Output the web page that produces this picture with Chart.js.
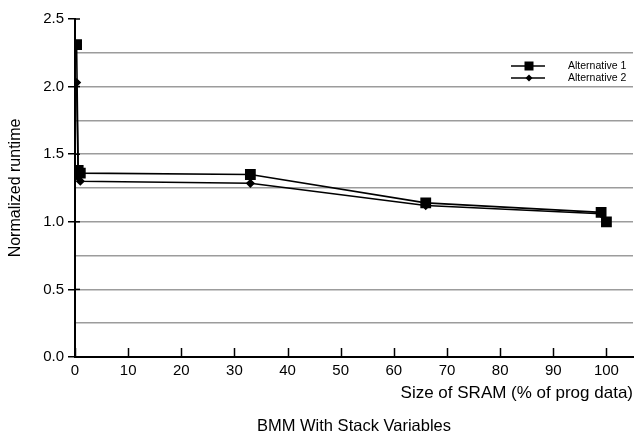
<!DOCTYPE html>
<html><head><meta charset="utf-8">
<script src="https://cdn.jsdelivr.net/npm/chart.js@4/dist/chart.umd.min.js"></script>
<style>html,body{margin:0;padding:0;background:#fff}canvas{display:block}</style>
</head><body>
<canvas id="c" width="635" height="435"></canvas>
<script>
const sramSize = [0.3, 0.6, 1, 33, 66, 99, 100];
const alternative1 = [2.31, 1.38, 1.36, 1.35, 1.14, 1.07, 1.00];
const alternative2 = [2.03, 1.33, 1.30, 1.285, 1.12, 1.06, 1.00];
const seriesNames = ['Alternative 1', 'Alternative 2'];
const xTickValues = [0, 10, 20, 30, 40, 50, 60, 70, 80, 90, 100];
const yLabelValues = [0, 0.5, 1.0, 1.5, 2.0, 2.5];
const xTitle = 'Size of SRAM (% of prog data)';
const yTitle = 'Normalized runtime';
const caption = 'BMM With Stack Variables';

const FONT = '"Liberation Sans", Arial, sans-serif';
const isMajor = v => yLabelValues.some(t => Math.abs(t - v) < 1e-6);

const inwardTicks = {
  id: 'inwardTicks',
  afterDraw(chart) {
    const ctx = chart.ctx, xs = chart.scales.x, a = chart.chartArea;
    ctx.save();
    ctx.strokeStyle = '#000';
    ctx.lineWidth = 1.5;
    xTickValues.forEach(v => {
      const px = Math.round(xs.getPixelForValue(v)) + 0.5;
      ctx.beginPath(); ctx.moveTo(px, a.bottom); ctx.lineTo(px, a.bottom - 9); ctx.stroke();
    });
    const ys = chart.scales.y;
    yLabelValues.forEach(v => {
      const py = ys.getPixelForValue(v);
      ctx.beginPath(); ctx.moveTo(a.left, py); ctx.lineTo(a.left + 5, py); ctx.stroke();
    });
    // caption
    ctx.fillStyle = '#000';
    ctx.font = '16.5px ' + FONT;
    ctx.textAlign = 'center';
    ctx.textBaseline = 'middle';
    ctx.fillText(caption, (a.left + a.right) / 2, 426);
    // legend
    const rows = [{y: 66, name: seriesNames[0], style: 'square'}, {y: 78, name: seriesNames[1], style: 'diamond'}];
    ctx.font = '10.5px ' + FONT;
    ctx.textAlign = 'left';
    rows.forEach(r => {
      ctx.beginPath(); ctx.moveTo(511, r.y); ctx.lineTo(545, r.y); ctx.stroke();
      ctx.beginPath();
      if (r.style === 'square') { ctx.rect(524.5, r.y - 4.5, 9, 9); }
      else { ctx.moveTo(529, r.y - 3.5); ctx.lineTo(532.5, r.y); ctx.lineTo(529, r.y + 3.5); ctx.lineTo(525.5, r.y); ctx.closePath(); }
      ctx.fill();
      ctx.fillText(r.name, 568, r.y);
    });
    ctx.restore();
  }
};

new Chart(document.getElementById('c'), {
  type: 'scatter',
  data: {
    datasets: [
      {
        label: seriesNames[0],
        data: sramSize.map((x, i) => ({x, y: alternative1[i]})),
        showLine: true, borderColor: '#000', backgroundColor: '#000', borderWidth: 1.6,
        pointStyle: 'rect', pointRadius: 6.5, pointHoverRadius: 6.5, tension: 0
      },
      {
        label: seriesNames[1],
        data: sramSize.map((x, i) => ({x, y: alternative2[i]})),
        showLine: true, borderColor: '#000', backgroundColor: '#000', borderWidth: 1.6,
        pointStyle: 'rectRot', pointRadius: 3.5, pointHoverRadius: 3.5, tension: 0
      }
    ]
  },
  options: {
    responsive: false, animation: false, devicePixelRatio: 1,
    layout: {autoPadding: false, padding: {top: 19, right: 2, left: 0, bottom: 0}},
    plugins: {legend: {display: false}, tooltip: {enabled: false}, title: {display: false}},
    scales: {
      x: {
        type: 'linear', min: 0, max: 105,
        afterBuildTicks: s => { s.ticks = xTickValues.map(v => ({value: v})); },
        afterFit: s => { s.height = 78; },
        ticks: {color: '#000', font: {family: FONT, size: 15}, padding: 5},
        grid: {drawOnChartArea: false, drawTicks: false},
        border: {display: true, color: '#000', width: 2},
        title: {display: true, text: xTitle, align: 'end', color: '#000', font: {family: FONT, size: 17}, padding: {top: 31, bottom: 31}}
      },
      y: {
        min: 0, max: 2.5,
        afterFit: s => { s.width = 75; },
        ticks: {stepSize: 0.25, includeBounds: false, autoSkip: false, color: '#000', font: {family: FONT, size: 15}, padding: 4,
          callback: v => (isMajor(v) ? v.toFixed(1) : '')},
        grid: {
          color: c => (c.tick && (Math.abs(c.tick.value) < 1e-6 || Math.abs(c.tick.value - 2.5) < 1e-6) ? 'rgba(0,0,0,0)' : '#9c9c9c'),
          lineWidth: 1.5, drawTicks: true, tickLength: 7,
          tickColor: c => (c.tick && isMajor(c.tick.value) ? '#000' : 'rgba(0,0,0,0)')
        },
        border: {display: true, color: '#000', width: 2},
        title: {display: true, text: yTitle, color: '#000', font: {family: FONT, size: 16}, padding: {top: 6, bottom: 0}}
      }
    }
  },
  plugins: [inwardTicks]
});
</script>
</body></html>
